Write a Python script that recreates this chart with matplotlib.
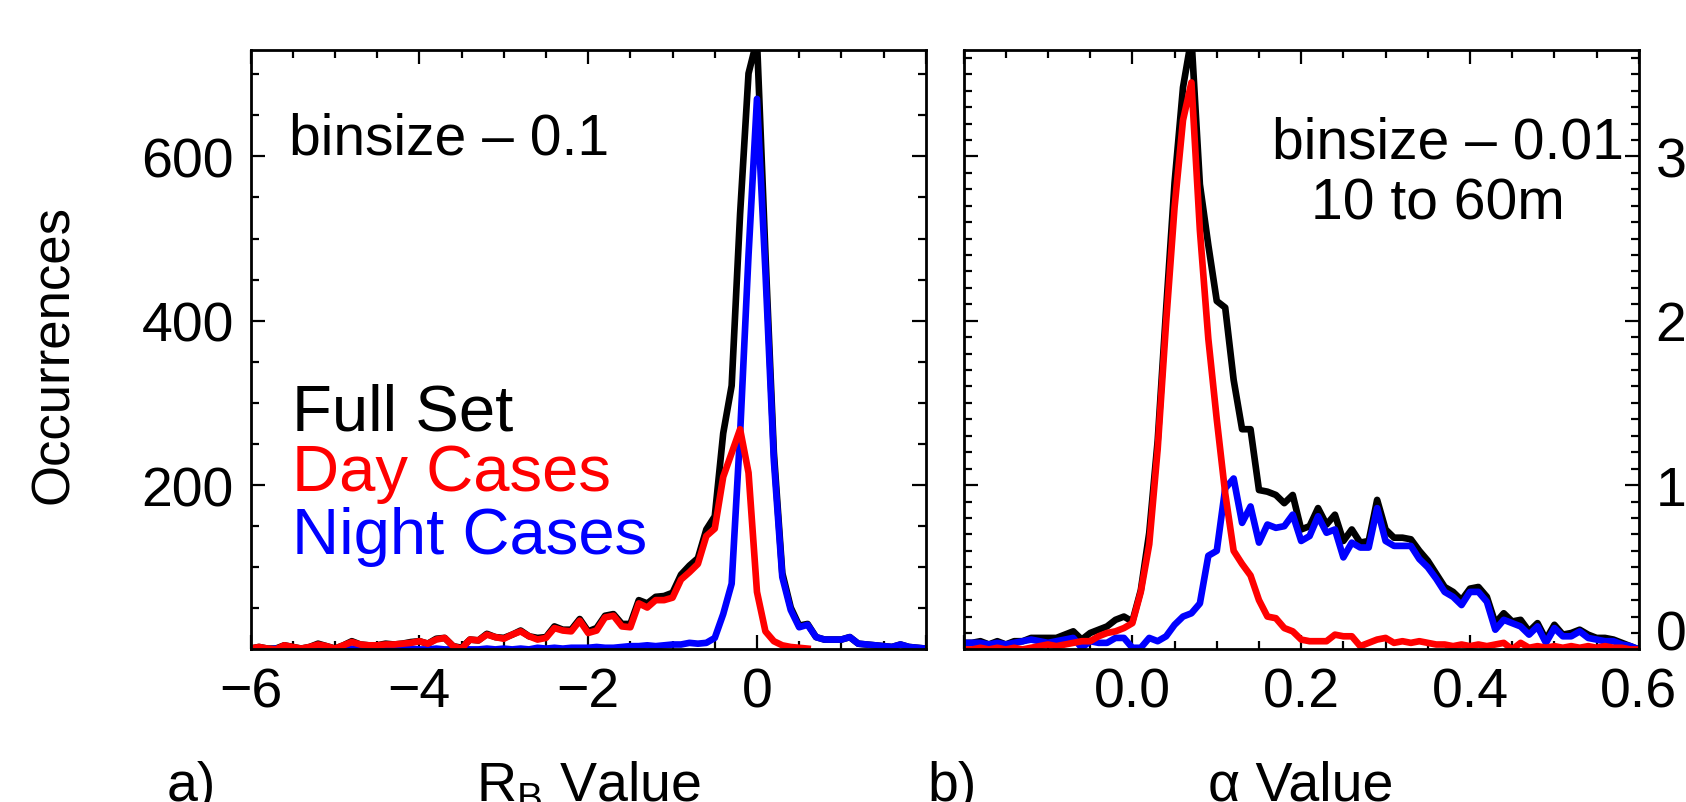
import numpy as np
import matplotlib
matplotlib.use('Agg')
import matplotlib.pyplot as plt
from matplotlib.ticker import MultipleLocator

plt.rcParams['font.family'] = ['Liberation Sans', 'DejaVu Sans']
plt.rcParams['mathtext.fontset'] = 'custom'
plt.rcParams['mathtext.rm'] = 'Liberation Sans'

# panel a) R_B histogram, binsize 0.1 from -6 to 2
rb_bins = np.round(np.arange(-6.0, 2.001, 0.1), 1)
rb_full = [1, 3, 1, 1, 5, 3, 1, 3, 7, 4,
           1, 5, 10, 6, 5, 5, 7, 6, 7, 9,
           10, 7, 13, 14, 4, 2, 12, 11, 19, 15,
           14, 18, 23, 16, 14, 15, 28, 24, 24, 37,
           22, 26, 41, 43, 31, 31, 60, 56, 64, 65,
           69, 91, 102, 111, 146, 162, 263, 321, 530, 701,
           742, 482, 240, 93, 51, 29, 31, 15, 12, 12,
           12, 15, 7, 6, 5, 4, 3, 6, 3, 2, 1]
# day cases stop at 0.6
rb_day = [1, 3, 1, 0, 5, 3, 1, 3, 6, 4,
          1, 5, 9, 6, 5, 5, 6, 6, 7, 8,
          10, 7, 12, 14, 4, 1, 12, 11, 18, 15,
          13, 18, 22, 16, 12, 14, 26, 23, 22, 35,
          20, 23, 39, 41, 28, 27, 56, 51, 60, 60,
          63, 85, 94, 104, 138, 147, 210, 239, 268, 215,
          70, 22, 10, 5, 3, 2, 1]
rb_night = [0, 0, 0, 1, 0, 0, 0, 0, 1, 0,
            0, 0, 1, 0, 0, 0, 1, 0, 0, 1,
            0, 0, 1, 0, 0, 1, 0, 0, 1, 0,
            1, 0, 1, 0, 2, 1, 2, 1, 2, 2,
            2, 3, 2, 2, 3, 4, 4, 5, 4, 5,
            6, 6, 8, 7, 8, 14, 43, 80, 262, 480,
            670, 460, 230, 88, 48, 27, 30, 15, 12, 12,
            12, 15, 7, 6, 5, 4, 3, 6, 3, 2, 1]

# panel b) alpha histogram, binsize 0.01 from -0.2 to 0.6
al_bins = np.round(np.arange(-0.2, 0.6001, 0.01), 2)
al_full = [4, 4, 5, 3, 5, 3, 5, 5, 7, 7,
           7, 7, 9, 11, 6, 10, 12, 14, 18, 20,
           17, 36, 71, 127, 207, 284, 342, 372, 283, 246,
           212, 208, 164, 134, 134, 97, 96, 94, 89, 94,
           73, 75, 86, 76, 82, 66, 73, 65, 66, 91,
           73, 68, 68, 67, 60, 54, 46, 38, 35, 30,
           37, 38, 32, 16, 22, 17, 18, 11, 16, 6,
           15, 9, 10, 12, 9, 7, 7, 6, 4, 2, 0]
al_day = [0, 0, 1, 0, 1, 0, 1, 0, 1, 2,
          3, 2, 3, 4, 5, 5, 8, 10, 11, 13,
          16, 35, 64, 122, 199, 269, 322, 345, 255, 189,
          140, 95, 60, 52, 45, 30, 20, 19, 13, 11,
          6, 5, 5, 5, 9, 8, 8, 2, 4, 6,
          7, 4, 5, 4, 5, 4, 3, 3, 2, 3,
          2, 3, 2, 3, 4, 0, 4, 1, 2, 1,
          2, 1, 2, 1, 2, 1, 2, 1, 1, 0, 0]
al_night = [4, 4, 4, 3, 4, 3, 4, 5, 6, 5,
            4, 5, 6, 7, 1, 5, 4, 4, 7, 7,
            1, 1, 7, 5, 8, 15, 20, 22, 28, 57,
            60, 98, 104, 77, 87, 65, 76, 74, 75, 82,
            66, 69, 81, 71, 73, 56, 65, 62, 62, 86,
            66, 63, 63, 63, 55, 50, 43, 35, 32, 27,
            35, 35, 29, 12, 18, 16, 14, 9, 14, 4,
            13, 8, 8, 11, 7, 6, 5, 5, 3, 2, 0]

FS = 40
LW = 4.8

fig = plt.figure(figsize=(16.86, 8.03), dpi=100)
ax1 = fig.add_axes([0.1486, 0.190, 0.4005, 0.747])
ax2 = fig.add_axes([0.5715, 0.190, 0.4005, 0.747])

for ax, x, full, day, night in [(ax1, rb_bins, rb_full, rb_day, rb_night),
                                (ax2, al_bins, al_full, al_day, al_night)]:
    ax.plot(x, full, color='black', lw=LW)
    ax.plot(x, night, color='#0000ff', lw=LW)
    ax.plot(x[:len(day)], day, color='#ff0000', lw=LW)
    for s in ax.spines.values():
        s.set_linewidth(2.0)
    ax.tick_params(which='both', direction='in', top=True, right=True,
                   width=1.6, labelsize=FS)
    ax.tick_params(which='major', length=10)
    ax.tick_params(which='minor', length=5.5)
    ax.tick_params(axis='x', pad=12)

ax1.set_xlim(-6, 2)
ax1.set_ylim(0, 730)
ax1.set_xticks([-6, -4, -2, 0, 2], labels=['\u22126', '\u22124', '\u22122', '0', ''])
ax1.xaxis.set_minor_locator(MultipleLocator(0.5))
ax1.set_yticks([0, 200, 400, 600], labels=['', '200', '400', '600'])
ax1.yaxis.set_minor_locator(MultipleLocator(50))
ax1.tick_params(axis='y', pad=12)

ax2.set_xlim(-0.2, 0.6)
ax2.set_ylim(0, 365)
ax2.set_xticks([-0.2, 0.0, 0.2, 0.4, 0.6], labels=['', '0.0', '0.2', '0.4', '0.6'])
ax2.xaxis.set_minor_locator(MultipleLocator(0.05))
ax2.set_yticks([0, 100, 200, 300])
ax2.yaxis.set_minor_locator(MultipleLocator(10))
ax2.tick_params(axis='y', labelleft=False, labelright=True, pad=12)
# the bottom right label sits a little above its tick
ax2.yaxis.get_major_ticks()[0].label2.set_va('baseline')

fig.text(0.032, 0.558, 'Occurrences', rotation=90, ha='center', va='center', fontsize=38)

fig.text(0.1714, 0.807, 'binsize \u2013 0.1', ha='left', va='baseline', fontsize=41)
fig.text(0.1732, 0.4645, 'Full Set', color='black', ha='left', va='baseline', fontsize=47)
fig.text(0.1732, 0.3885, 'Day Cases', color='#ff0000', ha='left', va='baseline', fontsize=47)
fig.text(0.1732, 0.3101, 'Night Cases', color='#0000ff', ha='left', va='baseline', fontsize=47)

fig.text(0.9632, 0.803, 'binsize \u2013 0.01', ha='right', va='baseline', fontsize=41)
fig.text(0.853, 0.7267, '10 to 60m', ha='center', va='baseline', fontsize=41)

fig.text(0.099, 0.003, 'a)', ha='left', va='baseline', fontsize=FS)
fig.text(0.3488, 0.003, r'R$_\mathrm{B}$ Value', ha='center', va='baseline', fontsize=FS)
fig.text(0.55, 0.003, 'b)', ha='left', va='baseline', fontsize=FS)
fig.text(0.7717, 0.003, '\u03b1 Value', ha='center', va='baseline', fontsize=FS)

fig.savefig('out.png', dpi=100)
